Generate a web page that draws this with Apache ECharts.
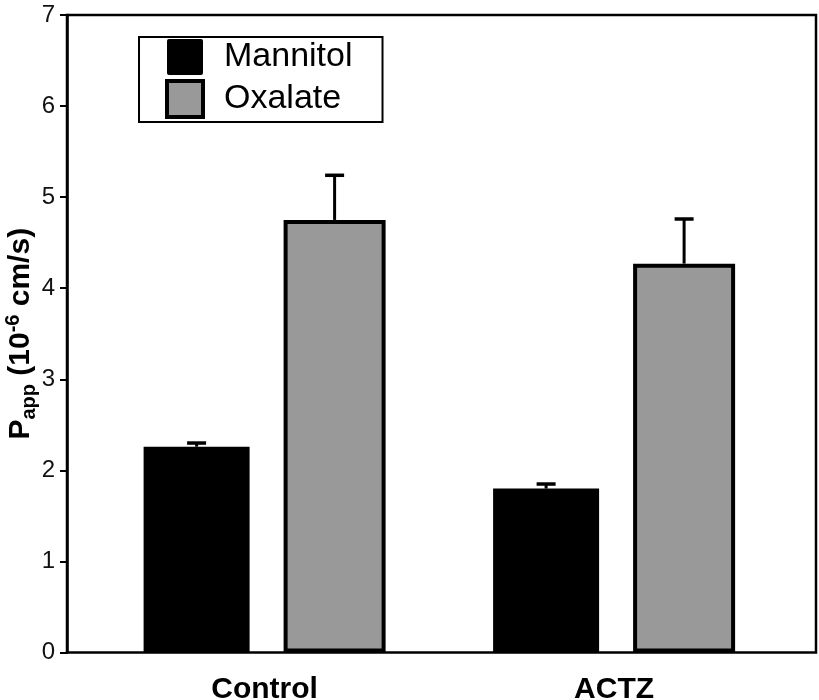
<!DOCTYPE html>
<html>
<head>
<meta charset="utf-8">
<script src="https://cdn.jsdelivr.net/npm/echarts@6/dist/echarts.min.js"></script>
<style>html,body{margin:0;padding:0;background:#fff}#c{width:819px;height:700px}</style>
</head>
<body>
<div id="c"></div>
<script>
var categories = ['Control', 'ACTZ'];
var seriesNames = ['Mannitol', 'Oxalate'];
var mannitol = [2.26, 1.80];
var mannitolErr = [0.04, 0.05];
var oxalate = [4.75, 4.27];
var oxalateErr = [0.49, 0.49];
var yTicks = [0, 1, 2, 3, 4, 5, 6, 7];

var BAR_W1 = 106, BAR_W2 = 102, BAR_GAP = 0.3208;
var FONT = '"Liberation Sans", Arial, Helvetica, sans-serif';

// bar centre offsets relative to category centre, following ECharts' bar layout rule
var widthSum = BAR_W1 * (1 + BAR_GAP) + BAR_W2;
var OFF1 = -widthSum / 2 + BAR_W1 / 2;
var OFF2 = -widthSum / 2 + BAR_W1 * (1 + BAR_GAP) + BAR_W2 / 2;

function errSeries(vals, errs, off, name) {
  return {
    type: 'custom', xAxisIndex: 1, yAxisIndex: 1, z: 5, silent: true,
    name: name + ' err',
    data: vals.map(function (v, i) { return [i, v, v + errs[i]]; }),
    renderItem: function (params, api) {
      var p0 = api.coord([api.value(0), api.value(1)]);
      var p1 = api.coord([api.value(0), api.value(2)]);
      var x = p0[0] + off;
      return { type: 'group', children: [
        { type: 'line', shape: { x1: x, y1: p0[1], x2: x, y2: p1[1] }, style: { stroke: '#000', lineWidth: 3 } },
        { type: 'line', shape: { x1: x - 9.5, y1: p1[1], x2: x + 9.5, y2: p1[1] }, style: { stroke: '#000', lineWidth: 3.5 } }
      ]};
    }
  };
}

var chart = echarts.init(document.getElementById('c'), null, { renderer: 'canvas' });
chart.setOption({
  backgroundColor: '#fff',
  animation: false,
  textStyle: { fontFamily: FONT },
  grid: [
    { left: 67, right: 3, top: 15, bottom: 47.5, show: true, borderColor: '#000', borderWidth: 2.5, backgroundColor: 'transparent', outerBoundsMode: 'none', containLabel: false },
    { left: 89.85, right: 30.15, top: 15, bottom: 47.5, outerBoundsMode: 'none', containLabel: false }
  ],
  legend: {
    left: 139, top: 37,
    orient: 'vertical',
    borderColor: '#000', borderWidth: 2,
    padding: [2, 30, 3, 26],
    itemWidth: 36, itemHeight: 36, itemGap: 4,
    textStyle: { fontSize: 34, color: '#000', fontFamily: FONT, padding: [0, 0, 0, 16], lineHeight: 36 },
    data: [
      { name: seriesNames[0], icon: 'path://M2,0 L34,0 Q36,0 36,2 L36,34 Q36,36 34,36 L2,36 Q0,36 0,34 L0,2 Q0,0 2,0 Z', itemStyle: { color: '#000', borderWidth: 0 } },
      { name: seriesNames[1], icon: 'rect', itemStyle: { color: '#999', borderColor: '#000', borderWidth: 4 } }
    ]
  },
  xAxis: [
    { gridIndex: 0, type: 'value', min: 0, max: 1, show: false },
    {
      gridIndex: 1, type: 'category', data: categories,
      axisLine: { show: false }, axisTick: { show: false },
      axisLabel: { fontSize: 30, fontWeight: 'bold', color: '#000', margin: 22, fontFamily: FONT }
    }
  ],
  yAxis: [
    {
      gridIndex: 0, type: 'value', min: 0, max: 7, interval: 1,
      axisLine: { show: true, lineStyle: { color: '#000', width: 2.5 } },
      axisTick: { show: true, length: 7, lineStyle: { color: '#000', width: 2 } },
      axisLabel: { fontSize: 24, color: '#111', margin: 12, fontFamily: FONT,
        formatter: function (v) { return yTicks.indexOf(v) >= 0 ? String(v) : ''; } },
      splitLine: { show: false },
      name: '{b|P}{sub|app}{b| (10}{sup|-6}{b| cm/s)}',
      nameLocation: 'middle', nameGap: 28, nameMoveOverlap: false,
      nameTextStyle: {
        color: '#000',
        rich: {
          b: { fontSize: 30, fontWeight: 'bold', fontFamily: FONT, color: '#000', lineHeight: 36 },
          sub: { fontSize: 20, fontWeight: 'bold', fontFamily: FONT, color: '#000', verticalAlign: 'bottom', lineHeight: 36, padding: [15, 0, 0, 0] },
          sup: { fontSize: 20, fontWeight: 'bold', fontFamily: FONT, color: '#000', verticalAlign: 'top', lineHeight: 36, padding: [0, 0, 11, 0] }
        }
      }
    },
    { gridIndex: 1, type: 'value', min: 0, max: 7, show: false }
  ],
  series: [
    {
      name: seriesNames[0], type: 'bar', xAxisIndex: 1, yAxisIndex: 1,
      data: mannitol, barWidth: BAR_W1, barGap: (BAR_GAP * 100) + '%',
      itemStyle: { color: '#000', borderColor: '#000', borderWidth: 4 }
    },
    {
      name: seriesNames[1], type: 'bar', xAxisIndex: 1, yAxisIndex: 1,
      data: oxalate, barWidth: BAR_W2, barGap: (BAR_GAP * 100) + '%',
      itemStyle: { color: '#999', borderColor: '#000', borderWidth: 4 }
    },
    errSeries(mannitol, mannitolErr, OFF1, seriesNames[0]),
    errSeries(oxalate, oxalateErr, OFF2, seriesNames[1])
  ]
});
</script>
</body>
</html>
